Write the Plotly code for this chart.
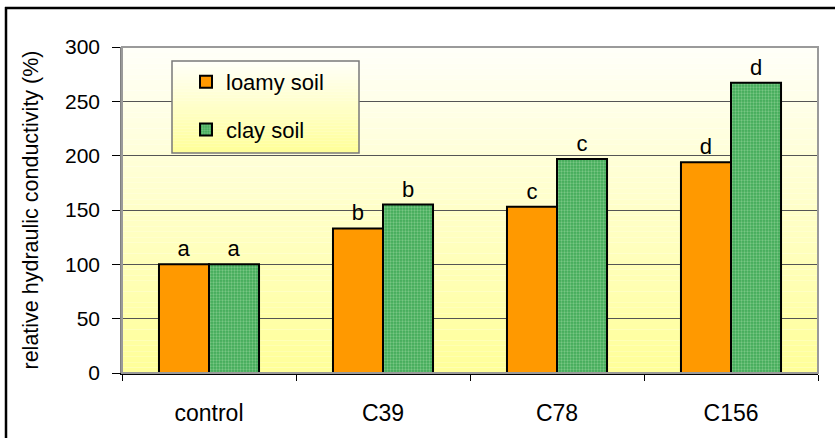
import plotly.graph_objects as go

categories = ["control", "C39", "C78", "C156"]
loamy = [100, 133, 153, 194]
clay = [100, 155, 197, 267]
loamy_letters = ["a", "b", "c", "d"]
clay_letters = ["a", "b", "c", "d"]
y_ticks = [0, 50, 100, 150, 200, 250, 300]

FONT = "Liberation Sans, Arial, sans-serif"

W, H = 835, 438
L, R, T, B = 122, 17, 47, 65
pw, ph = W - L - R, H - T - B


def px2x(px):
    return (px - L) / pw


def py2y(py):
    return (H - B - py) / ph


def lerp_col(c1, c2, t):
    return "rgb(%d,%d,%d)" % tuple(round(a + (b - a) * t) for a, b in zip(c1, c2))


TOPC = (255, 255, 248)
BOTC = (255, 255, 153)

fig = go.Figure()
fig.add_trace(go.Bar(
    x=categories, y=loamy, name="loamy soil",
    marker=dict(color="#ff9900", line=dict(color="black", width=2)),
    text=loamy_letters, textposition="outside",
    textfont=dict(size=22, color="black", family=FONT),
    legendgroup="a",
))
fig.add_trace(go.Bar(
    x=categories, y=clay, name="clay soil",
    marker=dict(color="#40a957", line=dict(color="black", width=2),
                pattern=dict(shape=".", fgcolor="#b0e4b0", bgcolor="#40a957",
                             size=3, solidity=0.45)),
    text=clay_letters, textposition="outside",
    textfont=dict(size=22, color="black", family=FONT),
    legendgroup="b",
))

shapes = []
# gradient plot background
n = 60
for i in range(n):
    t = i / (n - 1)
    shapes.append(dict(type="rect", xref="paper", yref="paper",
                       x0=0, x1=1, y0=1 - (i + 1) / n, y1=1 - i / n,
                       fillcolor=lerp_col(TOPC, BOTC, t), line=dict(width=0),
                       layer="below"))
# plot frame (top/right gray)
shapes.append(dict(type="rect", xref="paper", yref="paper", x0=0, x1=1, y0=0, y1=1,
                   line=dict(color="#9a9a9a", width=2), layer="above"))
# legend box with gradient
lx0, lx1, ly0, ly1 = 172, 359, 61, 153
m = 30
for i in range(m):
    t = i / (m - 1)
    y_top = ly0 + (ly1 - ly0) * i / m
    y_bot = ly0 + (ly1 - ly0) * (i + 1) / m
    shapes.append(dict(type="rect", xref="paper", yref="paper",
                       x0=px2x(lx0), x1=px2x(lx1), y0=py2y(y_bot), y1=py2y(y_top),
                       fillcolor=lerp_col(TOPC, BOTC, t), line=dict(width=0),
                       layer="above"))
shapes.append(dict(type="rect", xref="paper", yref="paper",
                   x0=px2x(lx0), x1=px2x(lx1), y0=py2y(ly1), y1=py2y(ly0),
                   line=dict(color="#7a7a7a", width=1.5), layer="above"))
# outer chart border (top and left)
shapes.append(dict(type="line", xref="paper", yref="paper",
                   x0=px2x(5), x1=px2x(840), y0=py2y(8), y1=py2y(8),
                   line=dict(color="black", width=2.5)))
shapes.append(dict(type="line", xref="paper", yref="paper",
                   x0=px2x(6), x1=px2x(6), y0=py2y(7), y1=py2y(445),
                   line=dict(color="black", width=2.5)))

fig.update_layout(
    width=W, height=H,
    margin=dict(l=L, r=R, t=T, b=B, pad=0),
    paper_bgcolor="white",
    plot_bgcolor="rgba(0,0,0,0)",
    font=dict(family=FONT, size=20, color="black"),
    barmode="group",
    bargap=0.425,
    bargroupgap=0,
    showlegend=True,
    legend=dict(x=px2x(186), y=py2y(61), xanchor="left", yanchor="top",
                bgcolor="rgba(0,0,0,0)", borderwidth=0,
                font=dict(size=22, family=FONT),
                tracegroupgap=16, itemwidth=30),
    shapes=shapes,
    xaxis=dict(
        type="category", tickson="boundaries", ticks="outside", ticklen=6,
        tickcolor="black", showline=True, linecolor="black", linewidth=1.5,
        showgrid=False, ticklabelstandoff=19,
        tickfont=dict(size=23, family=FONT),
    ),
    yaxis=dict(
        range=[0, 300], tickvals=y_ticks, ticks="outside", ticklen=8,
        tickcolor="black", showline=True, linecolor="#808080", linewidth=1.5,
        showgrid=True, gridcolor="#555555", gridwidth=1, zeroline=False,
        ticklabelstandoff=8,
        tickfont=dict(size=21, family=FONT),
        title=dict(text="relative hydraulic conductivity (%)",
                   font=dict(size=21.5, family=FONT), standoff=20),
    ),
)

fig.write_html("out.html", config={"displayModeBar": False},
               post_script="document.body.style.margin='0';document.body.style.padding='0';")
